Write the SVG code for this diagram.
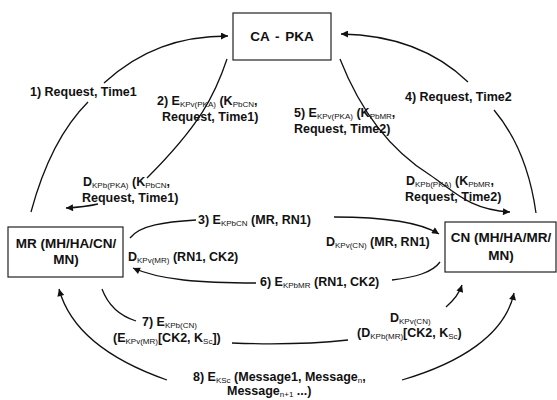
<svg xmlns="http://www.w3.org/2000/svg" width="557" height="400" viewBox="0 0 557 400">
<style>
.box{fill:#fff;stroke:#222;stroke-width:1.2}
.bt{font-family:"Liberation Sans",Arial,sans-serif;font-weight:bold;font-size:13.5px;fill:#111}
.l{font-family:"Liberation Sans",Arial,sans-serif;font-weight:bold;font-size:12.5px;fill:#111}
.s{font-size:8px;font-weight:normal}
.c{fill:none;stroke:#111;stroke-width:1.3}
</style>
<defs>
<marker id="ah" viewBox="0 0 10 10" refX="10" refY="5" markerWidth="10" markerHeight="7" markerUnits="userSpaceOnUse" orient="auto">
<path d="M0,0 L10,5 L0,10 z" fill="#111"/>
</marker>
</defs>
<rect width="557" height="400" fill="#fff"/>
<g id="connectors">
<path id="c1" class="c" d="M 31 212 C 45 160, 65 125, 88 102 M 104 83 C 140 50, 180 36, 228 36" marker-end="url(#ah)"/>
<path id="c2" class="c" d="M 227 59 C 215 95, 200 125, 147 178 M 98 204 Q 85 207, 66 208" marker-end="url(#ah)"/>
<path id="c3" class="c" d="M 130 238 C 140 225, 165 222, 196 220 M 334 217 C 385 217, 420 222, 439 234" marker-end="url(#ah)"/>
<path id="c4" class="c" d="M 536 213 C 530 170, 515 135, 494 110 M 468 82 C 440 55, 400 35, 341 34" marker-end="url(#ah)"/>
<path id="c5" class="c" d="M 340 59 C 360 110, 390 150, 430 175 C 455 192, 470 210, 510 212" marker-end="url(#ah)"/>
<path id="c6" class="c" d="M 440 262 C 432 273, 415 277, 392 280 M 256 283 C 200 283, 160 280, 133 268" marker-end="url(#ah)"/>
<path id="c7" class="c" d="M 102 289 C 108 305, 120 316, 136 321 M 232 343 C 280 345, 320 343, 348 340 M 446 307 C 453 301, 459 294, 462 285" marker-end="url(#ah)"/>
<path id="c8a" class="c" d="M 167 380 C 110 360, 70 330, 59 289" marker-end="url(#ah)"/>
<path id="c8b" class="c" d="M 402 380 C 460 363, 505 335, 514 293" marker-end="url(#ah)"/>
</g>
<g id="ca-pka">
<rect class="box" x="233" y="13" width="98" height="47"/>
<text class="bt" x="282" y="41" text-anchor="middle" word-spacing="2">CA - PKA</text>
</g>
<g id="mr">
<rect class="box" x="8" y="227" width="115" height="50"/>
<text class="bt" x="66" y="248" text-anchor="middle">MR (MH/HA/CN/</text>
<text class="bt" x="66" y="264" text-anchor="middle">MN)</text>
</g>
<g id="cn">
<rect class="box" x="445" y="222" width="111" height="50"/>
<text class="bt" x="501" y="242" text-anchor="middle">CN (MH/HA/MR/</text>
<text class="bt" x="501" y="260" text-anchor="middle">MN)</text>
</g>
<g id="labels">
<text class="l" x="30" y="96">1) Request, Time1</text>
<text class="l" x="157" y="105">2) E<tspan class="s" dy="2">KPv(PKA)</tspan><tspan dy="-2"> (K</tspan><tspan class="s" dy="2">PbCN</tspan><tspan dy="-2">,</tspan></text>
<text class="l" x="162" y="121">Request, Time1)</text>
<text class="l" x="83" y="186">D<tspan class="s" dy="2">KPb(PKA)</tspan><tspan dy="-2"> (K</tspan><tspan class="s" dy="2">PbCN</tspan><tspan dy="-2">,</tspan></text>
<text class="l" x="82" y="202">Request, Time1)</text>
<text class="l" x="198" y="224">3) E<tspan class="s" dy="2">KPbCN</tspan><tspan dy="-2"> (MR, RN1)</tspan></text>
<text class="l" x="326" y="246">D<tspan class="s" dy="2">KPv(CN)</tspan><tspan dy="-2"> (MR, RN1)</tspan></text>
<text class="l" x="405" y="101">4) Request, Time2</text>
<text class="l" x="294" y="117">5) E<tspan class="s" dy="2">KPv(PKA)</tspan><tspan dy="-2"> (K</tspan><tspan class="s" dy="2">PbMR</tspan><tspan dy="-2">,</tspan></text>
<text class="l" x="294" y="133">Request, Time2)</text>
<text class="l" x="406" y="185">D<tspan class="s" dy="2">KPb(PKA)</tspan><tspan dy="-2"> (K</tspan><tspan class="s" dy="2">PbMR</tspan><tspan dy="-2">,</tspan></text>
<text class="l" x="405" y="201">Request, Time2)</text>
<text class="l" x="260" y="286">6) E<tspan class="s" dy="2">KPbMR</tspan><tspan dy="-2"> (RN1, CK2)</tspan></text>
<text class="l" x="128" y="261">D<tspan class="s" dy="2">KPv(MR)</tspan><tspan dy="-2"> (RN1, CK2)</tspan></text>
<text class="l" x="142" y="326">7) E<tspan class="s" dy="2">KPb(CN)</tspan></text>
<text class="l" x="113" y="342">(E<tspan class="s" dy="2">KPv(MR)</tspan><tspan dy="-2">[CK2, K</tspan><tspan class="s" dy="2">Sc</tspan><tspan dy="-2">])</tspan></text>
<text class="l" x="390" y="322">D<tspan class="s" dy="2">KPv(CN)</tspan></text>
<text class="l" x="357" y="337">(D<tspan class="s" dy="2">KPb(MR)</tspan><tspan dy="-2">[CK2, K</tspan><tspan class="s" dy="2">Sc</tspan><tspan dy="-2">)</tspan></text>
<text class="l" x="193" y="381">8) E<tspan class="s" dy="2">KSc</tspan><tspan dy="-2"> (Message1, Message</tspan><tspan class="s" dy="2">n</tspan><tspan dy="-2">,</tspan></text>
<text class="l" x="227" y="395">Message<tspan class="s" dy="2">n+1</tspan><tspan dy="-2"> ...)</tspan></text>
</g>
</svg>
